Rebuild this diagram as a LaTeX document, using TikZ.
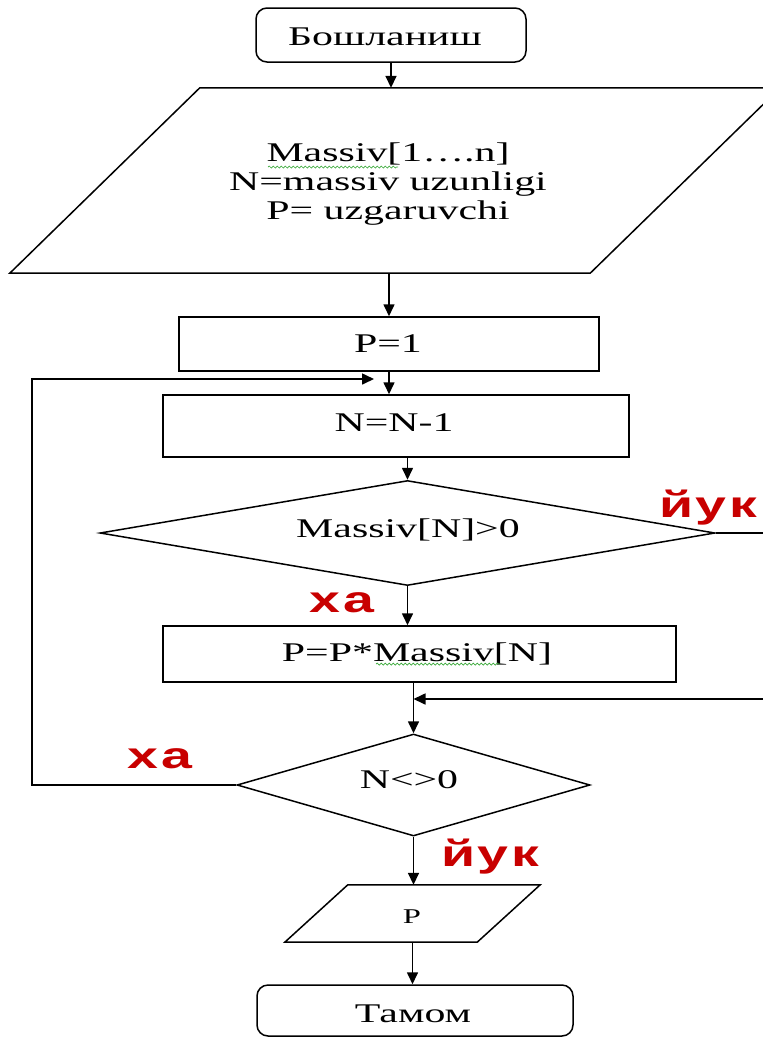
\documentclass[tikz,border=0pt]{standalone}
\usepackage{fontspec}
\setmainfont{Liberation Serif}[FakeStretch=1.55]
\newfontfamily\tagfont{Liberation Sans}[FakeStretch=1.5, LetterSpace=7]
\usetikzlibrary{arrows.meta,shapes.geometric,calc,decorations.pathmorphing}
\definecolor{tagred}{RGB}{200,0,0}
\definecolor{spellgreen}{RGB}{60,170,60}
\tikzset{
  blk/.style={draw, line width=1.5pt, inner sep=0pt},
  term/.style={blk, rounded corners=11pt},
  dia/.style={blk, diamond},
  ghost/.style={inner sep=0pt},
  txt/.style={anchor=base, inner sep=0pt, font=\fontsize{27}{29}\selectfont},
  tag/.style={anchor=base, inner sep=0pt, text=tagred, font=\tagfont\bfseries\fontsize{37}{40}\selectfont},
  flow/.style={line width=1.6pt, -{Triangle[length=12pt,width=11pt]}},
  squiggle/.style={spellgreen, line width=0.7pt, decorate, decoration={snake, amplitude=1pt, segment length=4pt}}
}
\begin{document}
\begin{tikzpicture}[x=1pt, y=-1pt]
\useasboundingbox (0,0) rectangle (763,1037);
\clip (0,0) rectangle (763,1037);

% terminal: start
\node[term, minimum width=270pt, minimum height=54pt] (start) at (391,35) {};
\node[txt] (tstart) at (385,45) {Бошланиш};

% input parallelogram
\node[ghost, minimum width=770pt, minimum height=185pt] (inp) at (395,180.5) {};
\draw[blk] ($(inp.north west)+(190,0)$) -- (inp.north east) -- ($(inp.south east)-(190,0)$) -- (inp.south west) -- cycle;
\node[inner sep=0pt, align=center, font=\fontsize{27}{29}\selectfont] (tinp) at (388,184)
  {Massiv[1….n]\\N=massiv uzunligi\\P= uzgaruvchi};
\draw[squiggle] (268,167) -- (398,167);

% P=1
\node[blk, minimum width=420pt, minimum height=54pt] (p1) at (389,344) {};
\node[txt] (tp1) at (388,352) {P=1};

% N=N-1
\node[blk, minimum width=466pt, minimum height=62pt] (n1) at (396,426) {};
\node[txt] (tn1) at (394,431) {N=N-1};

% decision: Massiv[N]>0
\node[dia, minimum width=615pt, minimum height=105pt] (d1) at (407.5,533) {};
\node[txt] (td1) at (408,537) {Massiv[N]>0};

% P=P*Massiv[N]
\node[blk, minimum width=513pt, minimum height=56pt] (pp) at (419.5,654) {};
\node[txt] (tpp) at (417,661) {P=P*Massiv[N]};
\draw[squiggle] (376,664) -- (500,664);

% decision: N<>0
\node[dia, minimum width=353pt, minimum height=102pt] (d2) at (413.5,785) {};
\node[txt] (td2) at (409,788) {N<>0};

% output parallelogram
\node[ghost, minimum width=255pt, minimum height=57pt] (out) at (412.5,913.5) {};
\draw[blk] ($(out.north west)+(63,0)$) -- (out.north east) -- ($(out.south east)-(63,0)$) -- (out.south west) -- cycle;
\node[anchor=base, inner sep=0pt, font=\fontsize{21}{23}\selectfont] (tout) at (412,923) {P};

% terminal: end
\node[term, minimum width=316pt, minimum height=51pt] (end) at (415,1010.5) {};
\node[txt] (tend) at (413,1022) {Тамом};

% branch labels
\node[tag] (yes1) at (342,612) {ха};
\node[tag] (no1) at (708,517) {йук};
\node[tag] (yes2) at (160,768) {ха};
\node[tag] (no2) at (490,866) {йук};

% connectors
\coordinate (loopin) at (374,379);
\coordinate (join) at (413.5,699);
\draw[flow] (start.south) -- (start.south |- inp.north);
\draw[flow] (p1.north |- inp.south) -- (p1.north);
\draw[flow] (p1.south) -- (p1.south |- n1.north);
\draw[flow] (d1.north |- n1.south) -- (d1.north);
\draw[flow] (d1.south) -- (d1.south |- pp.north);
\draw[flow] (d2.north |- pp.south) -- (d2.north);
\draw[flow] (d1.east) -- ++(70,0) |- (join);
\draw[flow] (d2.west) -- ++(-204,0) |- (loopin);
\draw[flow] (d2.south) -- (d2.south |- out.north);
\draw[flow] (out.south) -- (out.south |- end.north);
\end{tikzpicture}
\end{document}
